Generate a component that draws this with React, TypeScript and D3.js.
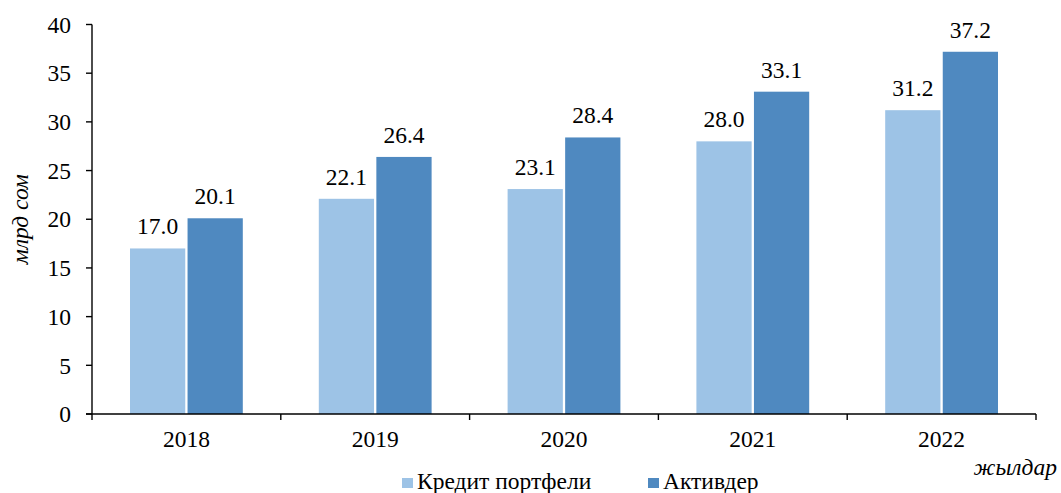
import React from "react";
import * as d3 from "d3";

const years = ["2018", "2019", "2020", "2021", "2022"];
const credit = [17.0, 22.1, 23.1, 28.0, 31.2];
const assets = [20.1, 26.4, 28.4, 33.1, 37.2];
const seriesNames = ["Кредит портфели", "Активдер"];
const yTicks = [0, 5, 10, 15, 20, 25, 30, 35, 40];

const W = 1061;
const H = 493;
const colors = ["#9dc3e6", "#4f89c0"];
const font = "Liberation Serif, DejaVu Serif, serif";
const fs = 23.5;

export default function App() {
  const margin = { left: 92, right: 25, top: 24.5, bottom: 79 };
  const x = d3.scaleBand<string>().domain(years).range([margin.left, W - margin.right]);
  // two bars per year, 56px each with a thin white gap, ~38px free on each side
  const inner = d3.scaleBand<number>().domain([0, 1]).range([38, x.bandwidth() - 38]).paddingInner(0.04);
  const y = d3.scaleLinear().domain([0, 40]).range([H - margin.bottom, margin.top]);
  const data = [credit, assets];

  return (
    <svg width={W} height={H} style={{ position: "absolute", left: 0, top: 0, background: "#fff", fontFamily: font }}>
      {data.map((vals, si) =>
        vals.map((v, i) => {
          const bx = (x(years[i]) ?? 0) + (inner(si) ?? 0);
          return (
            <g key={`${si}-${i}`}>
              <rect x={bx} y={y(v)} width={inner.bandwidth()} height={y(0) - y(v)} fill={colors[si]} />
              <text x={bx + inner.bandwidth() / 2} y={y(v) - 14} textAnchor="middle" fontSize={fs} fill="#000">
                {v.toFixed(1)}
              </text>
            </g>
          );
        })
      )}
      {/* y axis */}
      <line x1={margin.left} x2={margin.left} y1={y(40)} y2={y(0)} stroke="#000" strokeWidth={1.4} />
      {yTicks.map((t) => (
        <g key={t}>
          <line x1={margin.left - 6} x2={margin.left} y1={y(t)} y2={y(t)} stroke="#000" strokeWidth={1.4} />
          <text x={margin.left - 21} y={y(t)} dy="0.35em" textAnchor="end" fontSize={fs} fill="#000">
            {t}
          </text>
        </g>
      ))}
      {/* x axis */}
      <line x1={margin.left - 6} x2={W - margin.right} y1={y(0)} y2={y(0)} stroke="#000" strokeWidth={1.4} />
      {[...years.map((yr) => x(yr) ?? 0), W - margin.right].map((p, i) => (
        <line key={i} x1={p} x2={p} y1={y(0)} y2={y(0) + 6} stroke="#000" strokeWidth={1.4} />
      ))}
      {years.map((yr) => (
        <text key={yr} x={(x(yr) ?? 0) + x.bandwidth() / 2} y={447} textAnchor="middle" fontSize={fs} fill="#000">
          {yr}
        </text>
      ))}
      {/* axis titles */}
      <text transform={`translate(28,${(y(0) + y(40)) / 2}) rotate(-90)`} textAnchor="middle" fontSize={fs} fontStyle="italic" fill="#000">
        млрд сом
      </text>
      <text x={1057} y={475} textAnchor="end" fontSize={fs} fontStyle="italic" fill="#000">
        жылдар
      </text>
      {/* legend */}
      {seriesNames.map((name, i) => {
        const lx = [402, 648][i];
        return (
          <g key={name}>
            <rect x={lx} y={478} width={11} height={10} fill={colors[i]} />
            <text x={lx + 15} y={489} fontSize={fs} fill="#000">
              {name}
            </text>
          </g>
        );
      })}
    </svg>
  );
}
